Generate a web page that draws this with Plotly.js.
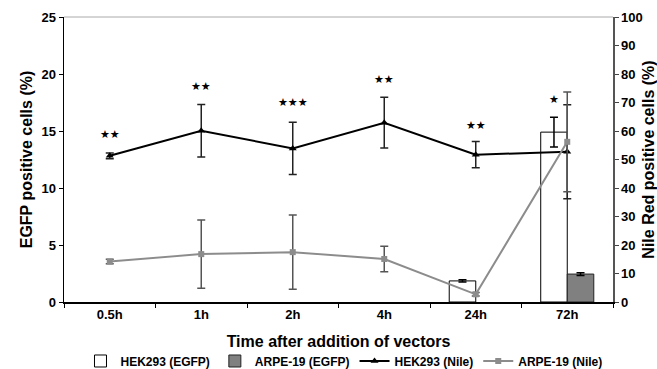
<!DOCTYPE html>
<html><head><meta charset="utf-8">
<script src="https://cdn.plot.ly/plotly-3.0.1.min.js"></script>
<style>html,body{margin:0;padding:0;background:#fff}</style>
</head><body><div id="chart" style="width:657px;height:369px"></div>
<script>
const categories = ['0.5h','1h','2h','4h','24h','72h'];
const hekEgfp = [null,null,null,null,1.85,14.9];
const hekEgfpErr = [null,null,null,null,0.1,1.3];
const arpeEgfp = [null,null,null,null,null,2.45];
const arpeEgfpErr = [null,null,null,null,null,0.12];
const hekNile = [51.3,60.1,53.9,62.9,51.7,52.7];
const hekNileErr = [1,9.2,9.2,8.9,4.6,16.5];
const arpeNile = [14.2,16.8,17.5,15.1,2.7,56.2];
const arpeNileErr = [0.8,12,13,4.5,0.6,17.5];
const stars = ['★★','★★','★★★','★★','★★','★'];
const starY = [14.7,18.9,17.5,19.5,15.5,17.8];
const starShift = [0,0,0,0,0,-13];

const F = 'Arial, "Liberation Sans", sans-serif';

const traces = [
  {type:'bar', name:'HEK293 (EGFP)', x:categories, y:hekEgfp,
   marker:{color:'#ffffff', line:{color:'#000', width:1}},
   error_y:{type:'data', array:hekEgfpErr, color:'#000', thickness:1.5, width:4}},
  {type:'bar', name:'ARPE-19 (EGFP)', x:categories, y:arpeEgfp,
   marker:{color:'#808080', line:{color:'#222', width:1}},
   error_y:{type:'data', array:arpeEgfpErr, color:'#000', thickness:1.5, width:4}},
  {type:'scatter', mode:'lines+markers', name:'HEK293 (Nile)', x:categories, y:hekNile, yaxis:'y2',
   line:{color:'#000', width:2}, marker:{symbol:'triangle-up', size:7, color:'#000'},
   error_y:{type:'data', array:hekNileErr, color:'#222', thickness:1.5, width:4}},
  {type:'scatter', mode:'lines+markers', name:'ARPE-19 (Nile)', x:categories, y:arpeNile, yaxis:'y2',
   line:{color:'#8c8c8c', width:2}, marker:{symbol:'square', size:6, color:'#8c8c8c'},
   error_y:{type:'data', array:arpeNileErr, color:'#555', thickness:1.5, width:4}}
];

const annotations = categories.map((c,i)=>({
  x:c, y:starY[i], xref:'x', yref:'y', text:stars[i], showarrow:false,
  xshift:starShift[i], font:{family:'DejaVu Sans', size:11, color:'#000'}
}));

const layout = {
  width:657, height:369,
  margin:{l:64, r:44, t:17, b:67, autoexpand:false},
  paper_bgcolor:'#fff', plot_bgcolor:'#fff',
  font:{family:F, color:'#000'},
  barmode:'group', bargap:0.42, bargroupgap:0,
  showlegend:true,
  legend:{orientation:'h', x:0.51, xanchor:'center', y:-0.207, yanchor:'middle',
          font:{family:F, size:12, weight:'bold'}, itemwidth:30, tracegroupgap:0, traceorder:'normal'},
  xaxis:{type:'category', tickson:'boundaries', ticks:'outside', ticklen:4, tickcolor:'#000', automargin:false,
         showline:true, linecolor:'#000', linewidth:1.5, showgrid:false,
         tickfont:{family:F, size:13, weight:'bold'},
         title:{text:'Time after addition of vectors', font:{family:F, size:16, weight:'bold'}, standoff:14}},
  yaxis:{range:[0,25], dtick:5, ticks:'outside', ticklen:4, tickcolor:'#000', automargin:false,
         showline:true, linecolor:'#000', linewidth:1.5, showgrid:false, zeroline:false,
         tickfont:{family:F, size:13, weight:'bold'},
         title:{text:'EGFP positive cells (%)', font:{family:F, size:16, weight:'bold'}, standoff:5}},
  yaxis2:{range:[0,100], dtick:10, overlaying:'y', side:'right', ticks:'outside', ticklen:4, tickcolor:'#444', automargin:false,
          showline:true, linecolor:'#555', linewidth:1.5, showgrid:false, zeroline:false,
          tickfont:{family:F, size:13, weight:'bold'},
          title:{text:'Nile Red positive cells (%)', font:{family:F, size:16, weight:'bold'}, standoff:4}},
  shapes:[{type:'line', xref:'paper', yref:'paper', x0:0, x1:1, y0:1, y1:1, line:{color:'#aaa', width:1}}],
  annotations:annotations
};

Plotly.newPlot('chart', traces, layout, {displayModeBar:false, staticPlot:true});
</script></body></html>
